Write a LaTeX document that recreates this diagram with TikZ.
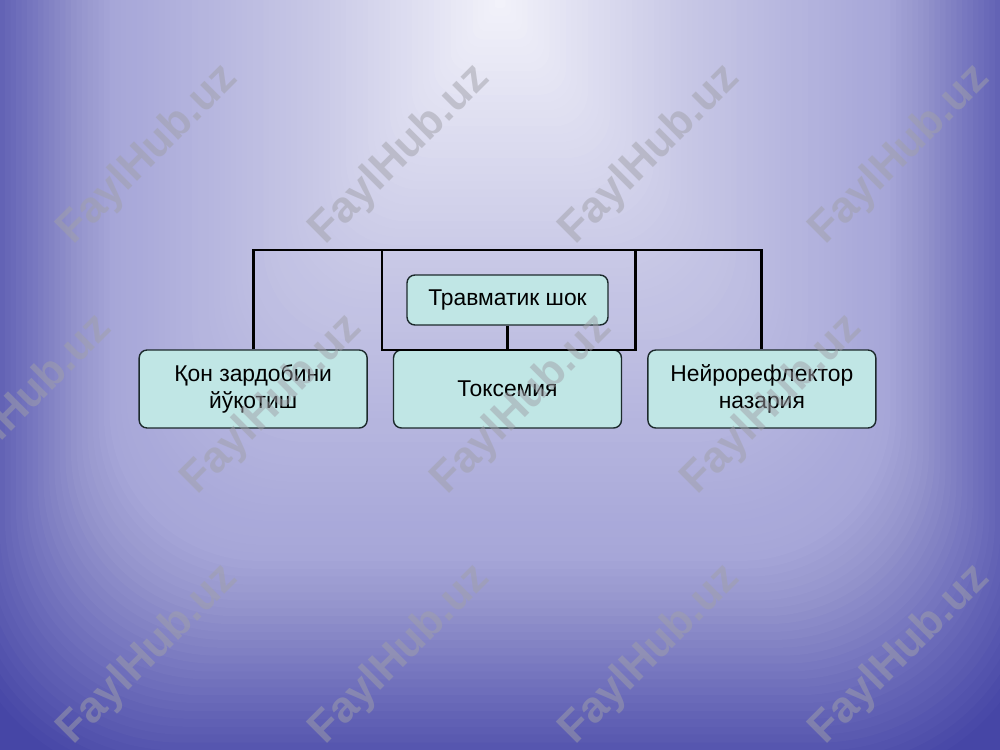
\documentclass[tikz,border=0pt]{standalone}
\usepackage{fontspec}
\setmainfont{Liberation Sans}
\usetikzlibrary{positioning}

\definecolor{bgA}{HTML}{F2F2FA}
\definecolor{bgB}{HTML}{C8C8E6}
\definecolor{bgF}{HTML}{A6A6D8}
\definecolor{bgC}{HTML}{9292CB}
\definecolor{bgE}{HTML}{6A6AB9}
\definecolor{bgD}{HTML}{4646A6}
\definecolor{boxfill}{HTML}{C0E6E5}
\definecolor{boxline}{HTML}{1C2A2C}
\definecolor{wmgray}{HTML}{A0A0A8}

\tikzset{
  box/.style={draw=boxline, fill=boxfill, rounded corners=4.5pt, line width=0.8pt,
    align=center, inner sep=0pt, font=\fontsize{13}{15.5}\selectfont},
  bigbox/.style={box, minimum width=4.56cm, minimum height=1.56cm},
  bracket/.style={line width=1.7pt, black},
  wmark/.style={rotate=45, text=wmgray, opacity=0.5, font=\fontsize{25}{25}\selectfont\bfseries}
}

\begin{document}
\begin{tikzpicture}[x=0.02cm, y=-0.02cm, node distance=0.5cm]
    \useasboundingbox (0,0) rectangle (1000,750);
    % background, stepped by hand
    \begin{scope}
        \clip (0,0) rectangle (1000,750);
        \fill[bgD] (0,0) rectangle (1000,750);
        \foreach \dA/\dB/\cA/\cB/\n in {1.0/0.89/bgD/bgE/11, 0.89/0.78/bgE/bgC/11,
                                        0.78/0.71/bgC/bgF/7, 0.71/0.34/bgF/bgB/37,
                                        0.34/0.01/bgB/bgA/33} {
            \foreach \i in {1,...,\n} {
                \pgfmathsetmacro\f{\dA-(\dA-\dB)*\i/\n}
                \pgfmathtruncatemacro\p{100*\i/\n}
                \pgfmathsetmacro\rr{\f*120}
                \fill[\cB!\p!\cA, rounded corners=\rr pt]
                    ({500-550*\f},{-790*\f}) rectangle ({500+550*\f},{790*\f});
            }
        }
    \end{scope}

    % boxes
    \node[box, minimum width=4.02cm, minimum height=1cm] (shock) at (507.5,300) {Травматик шок};
    \node[bigbox] (toxemia) at (507.5,389) {Токсемия};
    \node[bigbox, left=of toxemia] (plasma) {Қон зардобини\\йўқотиш};
    \node[bigbox, right=of toxemia] (neuro) {Нейрорефлектор\\назария};

    % lines
    \coordinate (bar) at (507.5,250);
    \coordinate (innerL) at (382,350);
    \coordinate (innerR) at (635,350);
    \draw[bracket] (plasma.north) |- (bar) -| (neuro.north);
    \draw[bracket] (innerL |- bar) -- (innerL) -- (innerR) -- (innerR |- bar);
    \draw[bracket] (shock.south) -- (shock.south |- innerL);

    % watermark
    \foreach \wx/\wy in {148/155,400/155,650/155,900/155,
                         22/405,272/405,522/405,772/405,
                         148/655,400/655,650/655,900/655}
        \node[wmark] at (\wx,\wy) {FaylHub.uz};
\end{tikzpicture}
\end{document}
